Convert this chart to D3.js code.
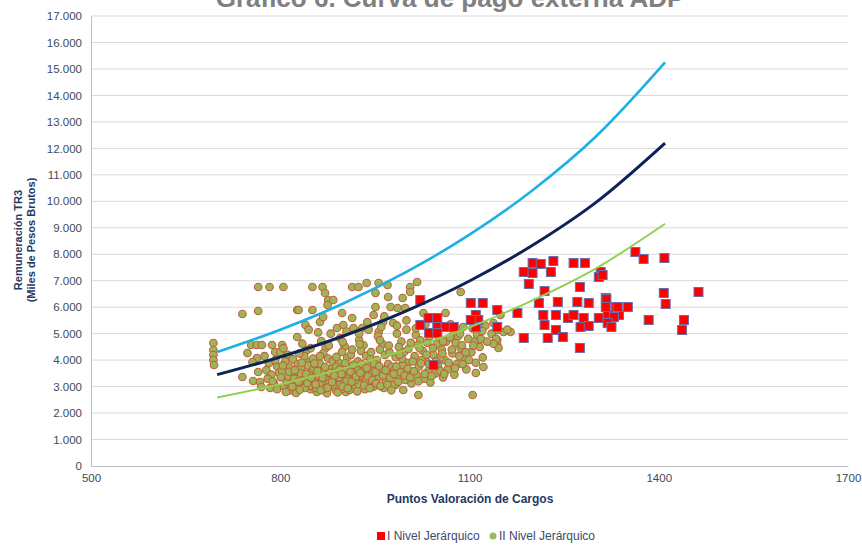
<!DOCTYPE html>
<html>
<head>
<meta charset="utf-8">
<script src="https://cdn.jsdelivr.net/npm/d3@7"></script>
<style>
  body { margin: 0; background: #fff; }
  text { font-family: "Liberation Sans", Arial, sans-serif; }
</style>
</head>
<body>
<svg id="chart" width="862" height="546"></svg>
<script>
// ---- data ----
const titleText = 'Gráfico 6. Curva de pago externa ADP';
const yTicks = d3.range(0, 17001, 1000);
const xTicks = [500, 800, 1100, 1400, 1700];

// trend curves
const curveX     = [700, 800, 900, 1000, 1100, 1200, 1300, 1410];
const curveUpper = [4310, 5150, 6140, 7330, 8740, 10420, 12440, 15250];
const curveMid   = [3450, 4120, 4910, 5860, 6990, 8340, 9950, 12200];
const curveLower = [2590, 3090, 3680, 4400, 5240, 6260, 7460, 9150];

// I Nivel Jerárquico
const nivel1 = [
  [1022,6271],[1022,5327],[1035,5591],[1049,5591],[1036,5025],[1049,5251],[1062,5251],[1075,5251],[1049,5025],[1043,3816],
  [1102,6158],[1121,6158],[1144,5894],[1110,5705],[1114,5516],[1110,5251],[1144,5251],[1102,5516],
  [1176,5780],[1186,4836],[1200,7669],[1186,7329],[1200,7292],[1213,7632],[1233,7745],[1229,7329],[1265,7669],[1283,7669],
  [1194,6876],[1219,6612],[1210,6158],[1240,6196],[1271,6196],[1275,6763],[1289,6158],[1308,7329],[1305,7140],[1316,6347],
  [1332,6007],[1351,6007],[1363,8085],[1376,7820],[1409,7858],[1408,6536],[1411,6120],[1463,6574],[1384,5516],[1440,5516],[1437,5138],
  [1217,5705],[1219,5327],[1237,5705],[1237,5138],[1224,4836],[1248,4874],[1256,5591],[1265,5705],[1281,5591],[1276,5251],
  [1289,5289],[1305,5591],[1319,5705],[1324,5403],[1337,5705],[1275,4458],[1317,6309],[1316,6007],[1335,6007],[1329,5629],
  [1319,5403],[1325,5251],[1311,7216]
];

// II Nivel Jerárquico
const nivel2 = [
  [765,6763],[783,6763],[805,6763],[740,5743],[765,5856],[827,5894],
  [694,4647],[694,4383],[694,4194],[694,4005],[695,3816],
  [754,4571],[763,4571],[771,4571],[748,4269],[740,3362],[757,3211],[768,3174],[770,2985],[765,3551],[763,4080],[756,3929],
  [787,4571],[792,4307],[803,4571],[800,4307],[827,4874],
  [851,6763],[867,6763],[914,6763],[924,6763],[937,6914],[956,6914],
  [871,6536],[876,6271],[884,6271],[875,6083],[829,5894],[851,5894],[863,5440],[868,5629],[840,5327],
  [898,5780],[914,5591],[900,5327],[890,5214],[951,6007],[975,6007],[948,5705],[963,5440],[979,5403],[938,5440],
  [970,6838],[951,6536],[971,6385],[916,5214],[930,5214],[956,5063],
  [1017,6952],[1006,6763],[1006,6574],[994,6347],[1086,6574],[986,5969],[998,5969],[1027,5780],[1062,5780],
  [983,3060],[995,2871],[1019,2682],[1105,2682],[1144,4571],[1122,3740],[1110,3514],
  [1138,5403],[1149,5705],[1144,5138],[1154,5063],[1165,5063],[1144,4760],[1146,4458],
  [775,4150],[782,3880],[778,3620],[786,3450],[780,3300],[790,3120],[784,2950],[795,3760],[798,3520],[792,4000],
  [805,4450],[812,4200],[808,3950],[815,3720],[803,3600],[818,3430],[810,3290],[822,3150],[806,3010],[816,2860],
  [825,2760],[820,4030],[827,3560],[828,3850],[811,3180],
  [835,4620],[842,4380],[838,4150],[846,3920],[833,3700],[850,3560],[840,3360],[855,3220],[837,3060],[848,2900],
  [858,2800],[852,4060],[844,3800],[857,3460],[836,3250],[853,3690],
  [865,4720],[872,4460],[868,4250],[876,4060],[863,3860],[881,3660],[870,3500],[885,3300],[866,3150],[878,3000],
  [888,2860],[874,2750],[883,3950],[887,3600],[861,3420],[877,3220],[869,2920],
  [895,4830],[902,4520],[898,4310],[906,4090],[893,3900],[911,3760],[900,3540],[915,3400],[896,3260],[908,3110],
  [918,2950],[904,2800],[912,4200],[917,3700],[892,3060],[909,3330],
  [925,4760],[932,4560],[928,4350],[936,4160],[923,3950],[941,3800],[930,3610],[945,3450],[926,3300],[938,3160],
  [948,3000],[934,2900],[943,4050],[947,3520],[921,3700],
  [955,4900],[962,4610],[958,4400],[966,4200],[953,4000],[971,3850],[960,3660],[975,3500],[956,3350],[968,3200],
  [978,3060],[964,2950],[973,4300],[977,3750],[951,3550],
  [985,5000],[992,4700],[988,4500],[996,4300],[983,4110],[1001,3900],[990,3700],[1005,3560],[986,3400],[998,3250],
  [1008,3120],[1003,4420],[994,3820],[981,3620],
  [1015,4950],[1022,4750],[1018,4560],[1026,4350],[1013,4150],[1031,3950],[1020,3760],[1035,3600],[1016,3450],[1028,3300],
  [1038,3160],[1033,4660],[1024,4000],
  [1045,5020],[1052,4800],[1048,4600],[1056,4400],[1043,4200],[1061,4000],[1050,3800],[1065,3650],[1046,3500],[1058,3350],
  [1063,4700],[1054,4100],
  [1075,5100],[1082,4900],[1078,4650],[1086,4450],[1073,4250],[1091,4050],[1080,3850],[1095,3650],[1076,3450],[1088,4560],
  [1105,5200],[1112,4950],[1108,4700],[1116,4500],[1103,4300],[1121,4100],[1110,3900],[1118,4800],
  [1135,5000],[1142,4800],[1138,4620],
  [813,3380],[826,3050],[839,2950],[847,3150],[862,3100],[873,3380],[884,3080],[897,2900],[905,3200],[914,3500],
  [924,3100],[833,3500],[850,3020],[866,3560],[880,3460],[889,3750],[901,3650],[919,3250],[931,3400],[940,3050],
  [822,3300],[857,2950],[893,3350],[910,2870],[936,3250],
  [845,5150],[860,5050],[880,5000],[905,5080],[925,5000],[940,5150],[960,5250],[985,5300],[1000,5500],[1015,5200],
  [1030,5350],[1050,5300],[1070,5350],[1090,5250],[1110,5400],[1125,5300],[1000,5150],[965,5650],[1120,5100],[1160,5150],
  [788,3200],[795,2900],[801,3350],[804,3800],[809,2800],[814,3560],[819,2990],[823,3620],[829,3180],[831,2880],
  [834,3900],[841,3480],[843,3140],[849,3330],[854,3870],[856,3080],[859,3590],[864,2860],[867,3330],[871,3740],
  [875,2960],[879,3520],[882,3170],[886,3420],[891,2780],[894,3650],[897,3480],[899,3000],[903,3890],[907,2940],
  [911,3560],[913,3180],[916,3820],[920,3380],[922,2820],[927,3520],[929,3860],[933,3050],[937,3700],[939,3380],
  [942,2940],[946,3250],[949,3860],[952,3120],[957,3770],[959,3020],[963,3420],[967,3620],[970,3080],[974,3330],
  [976,2860],[980,3480],[984,3760],[987,3180],[991,3540],[993,4050],[997,3420],[1002,3680],[1006,3340],[1010,3950],
  [1012,3580],[1019,3200],[1023,3880],[1029,3480],[1032,4200],[1036,3850],[1040,3400],[1042,4450],[1047,3950],[1053,3600],
  [1057,4250],[1060,3480],[1067,3900],[1072,4400],[1077,3700],[1084,4150],[1089,3850],[1094,4300],[1099,4000],[1106,4550],
  [830,4250],[848,4450],[863,4150],[877,4550],[889,4120],[899,4680],[914,4400],[926,4600],[944,4300],[958,4750],
  [972,4550],[989,4200],[1007,4650],[1021,4450],[1037,4900],[1058,4700],[1069,4850],[1085,5000],[1098,4800],[1128,4700]
];

// ---- chart ----
const svg = d3.select('#chart');
const margin = { left: 91, right: 14, top: 16, bottom: 80 };
const W = 862, H = 546;

const x = d3.scaleLinear().domain([500, 1700]).range([margin.left, W - margin.right]);
const y = d3.scaleLinear().domain([0, 17000]).range([H - margin.bottom, margin.top]);

const fmt = d3.format(',');
const tickLabel = (d) => fmt(d).replace(/,/g, '.');

// gridlines
svg.append('g')
  .selectAll('line')
  .data(yTicks.filter(d => d > 0))
  .join('line')
  .attr('x1', x(500)).attr('x2', x(1700))
  .attr('y1', d => y(d)).attr('y2', d => y(d))
  .attr('stroke', '#d9d9d9').attr('stroke-width', 1);

// y axis
const yAxis = svg.append('g')
  .attr('transform', `translate(${margin.left},0)`)
  .call(d3.axisLeft(y).tickValues(yTicks).tickFormat(tickLabel).tickSize(0).tickPadding(9));
yAxis.select('.domain').attr('stroke', '#bfbfbf');
yAxis.selectAll('text').attr('font-size', 11.5).attr('fill', '#404a5e');

// x axis
const xAxis = svg.append('g')
  .attr('transform', `translate(0,${y(0)})`)
  .call(d3.axisBottom(x).tickValues(xTicks).tickFormat(d3.format('d')).tickSize(0).tickPadding(8));
xAxis.select('.domain').attr('stroke', '#bfbfbf');
xAxis.selectAll('text').attr('font-size', 11.5).attr('fill', '#404a5e');

// scatter: II Nivel (circles)
svg.append('g')
  .selectAll('circle')
  .data(nivel2)
  .join('circle')
  .attr('cx', d => x(d[0])).attr('cy', d => y(d[1]))
  .attr('r', 3.8)
  .attr('fill', '#9fb456')
  .attr('stroke', '#c0603f')
  .attr('stroke-width', 1.1);

// scatter: I Nivel (squares)
const sq = 9;
svg.append('g')
  .selectAll('rect')
  .data(nivel1)
  .join('rect')
  .attr('x', d => x(d[0]) - sq / 2).attr('y', d => y(d[1]) - sq / 2)
  .attr('width', sq).attr('height', sq)
  .attr('fill', '#ff0000')
  .attr('stroke', '#6a6fb0')
  .attr('stroke-width', 1);

// trend curves
const line = d3.line()
  .x((d, i) => x(curveX[i]))
  .y(d => y(d))
  .curve(d3.curveMonotoneX);

svg.append('path').datum(curveLower).attr('d', line)
  .attr('fill', 'none').attr('stroke', '#92d050').attr('stroke-width', 2);
svg.append('path').datum(curveMid).attr('d', line)
  .attr('fill', 'none').attr('stroke', '#0f2257').attr('stroke-width', 3);
svg.append('path').datum(curveUpper).attr('d', line)
  .attr('fill', 'none').attr('stroke', '#1cb0e4').attr('stroke-width', 2.6);

// title (partly clipped at the top, as in the picture)
svg.append('text')
  .attr('x', 450).attr('y', 7)
  .attr('text-anchor', 'middle')
  .attr('font-family', '"Open Sans", sans-serif')
  .attr('font-weight', 'bold')
  .attr('font-size', 26)
  .attr('fill', '#808080')
  .text(titleText);

// axis titles
svg.append('text')
  .attr('x', 470).attr('y', 503)
  .attr('text-anchor', 'middle')
  .attr('font-weight', 'bold').attr('font-size', 12)
  .attr('fill', '#1f3864')
  .text('Puntos Valoración de Cargos');

const yt = svg.append('text')
  .attr('transform', 'translate(22,240) rotate(-90)')
  .attr('text-anchor', 'middle')
  .attr('font-weight', 'bold').attr('font-size', 11)
  .attr('fill', '#1f3864');
yt.append('tspan').attr('x', 0).attr('dy', 0).text('Remuneración TR3');
yt.append('tspan').attr('x', 0).attr('dy', 13).text('(Miles de Pesos Brutos)');

// legend
const legend = svg.append('g').attr('transform', 'translate(0,540)');
legend.append('rect').attr('x', 377).attr('y', -8).attr('width', 8).attr('height', 8).attr('fill', '#ff0000');
legend.append('text').attr('x', 387).attr('y', 0).attr('font-size', 12).attr('fill', '#3b4a6b').text('I Nivel Jerárquico');
legend.append('circle').attr('cx', 493).attr('cy', -4).attr('r', 3.5).attr('fill', '#9bbb59');
legend.append('text').attr('x', 499).attr('y', 0).attr('font-size', 12).attr('fill', '#3b4a6b').text('II Nivel Jerárquico');
</script>
</body>
</html>
